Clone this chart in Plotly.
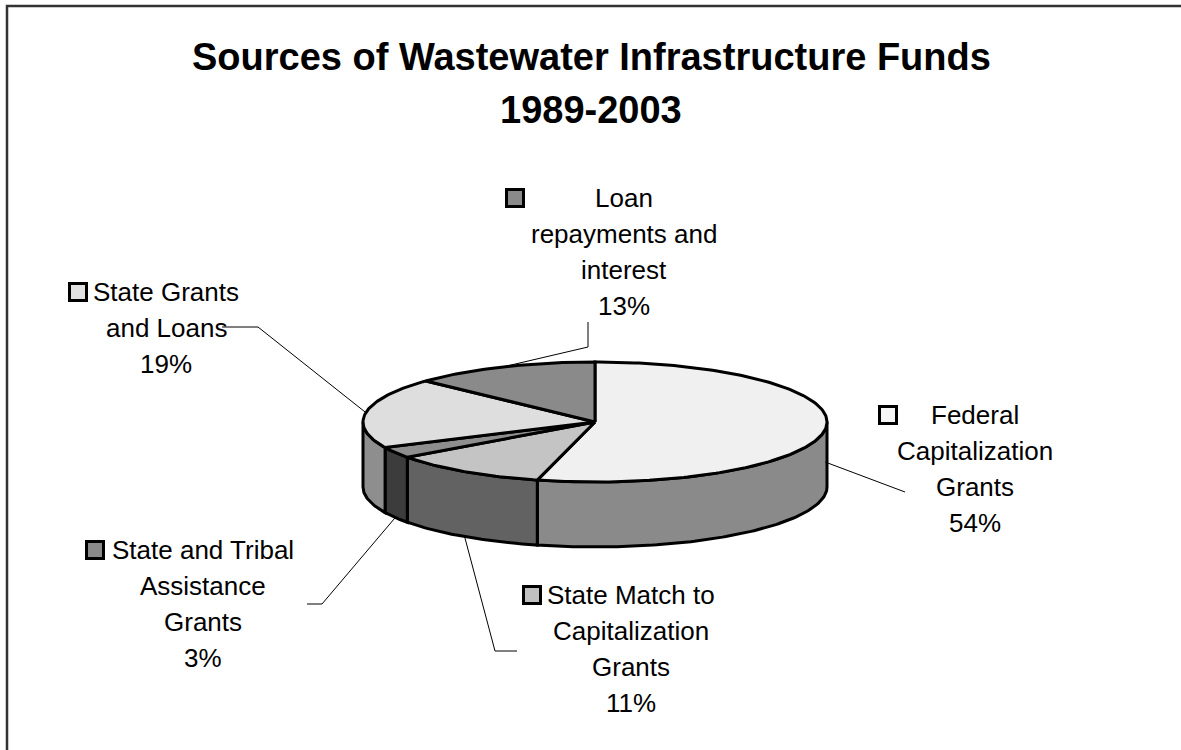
import math
import plotly.graph_objects as go

# ---------------- data ----------------
categories = ["Federal Capitalization Grants", "State Match to Capitalization Grants",
              "State and Tribal Assistance Grants", "State Grants and Loans",
              "Loan repayments and interest"]
values = [54, 11, 3, 19, 13]
label_lines = [["Federal", "Capitalization", "Grants"],
               ["State Match to", "Capitalization", "Grants"],
               ["State and Tribal", "Assistance", "Grants"],
               ["State Grants", "and Loans"],
               ["Loan", "repayments and", "interest"]]
top_colors = ["#f0f0f0", "#c4c4c4", "#8e8e8e", "#dedede", "#8a8a8a"]
side_colors = ["#8a8a8a", "#626262", "#3c3c3c", "#8e8e8e", "#5a5a5a"]
key_colors = ["#f6f6f6", "#c0c0c0", "#8a8a8a", "#e2e2e2", "#8a8a8a"]

# ---------------- layout constants (pixels) ----------------
W, H = 1181, 750
CX, CY, RX, RY, DEPTH = 595, 422, 232, 60, 65
FONT = "Liberation Sans, Arial, sans-serif"
LSIZE = 26
LSTEP = 36
# label block: (center x, first line y, key left x, attach depth fraction, leader bend/end points)
label_pos = [
    (975, 415, 878, 0.5, [(905, 492)]),
    (631, 595, 522, 1.0, [(495, 651), (517, 651)]),
    (203, 550, 85, 1.0, [(322, 604), (307, 604)]),
    (166, 292, 68, 0.0, [(258, 327), (222, 327)]),
    (624, 198, 505, 0.0, [(588, 347), (588, 322)]),
]

fig = go.Figure()

total = sum(values)
angles = []
a = 90.0
for v in values:
    sweep = 360.0 * v / total
    angles.append((a, a - sweep))
    a -= sweep


def pt(theta, dy=0.0):
    t = math.radians(theta)
    return CX + RX * math.cos(t), CY - RY * math.sin(t) + dy


def arc(t0, t1, dy=0.0):
    n = max(2, int(abs(t1 - t0)) + 1)
    xs, ys = [], []
    for i in range(n + 1):
        th = t0 + (t1 - t0) * i / n
        x, y = pt(th, dy)
        xs.append(x)
        ys.append(y)
    return xs, ys

# side faces (front half only: angles between -180 and 0)
for i, (t0, t1) in enumerate(angles):
    hi = min(t0, 0.0)
    lo = max(t1, -180.0)
    if hi <= lo:
        continue
    xt, yt = arc(hi, lo)
    xb, yb = arc(lo, hi, DEPTH)
    fig.add_trace(go.Scatter(x=xt + xb + [xt[0]], y=yt + yb + [yt[0]], mode="lines",
                             fill="toself", fillcolor=side_colors[i],
                             line=dict(color="black", width=3), hoverinfo="skip",
                             showlegend=False))

# top faces
for i, (t0, t1) in enumerate(angles):
    xs, ys = arc(t0, t1)
    fig.add_trace(go.Scatter(x=[CX] + xs + [CX], y=[CY] + ys + [CY], mode="lines",
                             fill="toself", fillcolor=top_colors[i],
                             line=dict(color="black", width=3), hoverinfo="skip",
                             showlegend=False))

# leader lines and labels
for i, (t0, t1) in enumerate(angles):
    mid = (t0 + t1) / 2
    cx, y0, kx, depth_frac, ends = label_pos[i]
    ax, ay = pt(mid, DEPTH * depth_frac)
    lx = [ax] + [e[0] for e in ends]
    ly = [ay] + [e[1] for e in ends]
    fig.add_trace(go.Scatter(x=lx, y=ly, mode="lines", line=dict(color="black", width=1),
                             hoverinfo="skip", showlegend=False))
    lines = label_lines[i] + ["%d%%" % round(100 * values[i] / total)]
    for j, t in enumerate(lines):
        fig.add_annotation(x=cx, y=y0 + j * LSTEP, text=t, showarrow=False,
                           xanchor="center", yanchor="middle",
                           font=dict(family=FONT, size=LSIZE, color="black"))
    fig.add_shape(type="rect", x0=kx + 1.5, x1=kx + 18.5, y0=y0 - 8.5, y1=y0 + 8.5,
                  line=dict(color="black", width=3), fillcolor=key_colors[i])

# title
fig.add_annotation(x=591, y=57, text="<b>Sources of Wastewater Infrastructure Funds</b>",
                   showarrow=False, xanchor="center", yanchor="middle",
                   font=dict(family=FONT, size=38, color="black"))
fig.add_annotation(x=591, y=110, text="<b>1989-2003</b>",
                   showarrow=False, xanchor="center", yanchor="middle",
                   font=dict(family=FONT, size=38, color="black"))

# frame
fig.add_shape(type="rect", xref="paper", yref="paper", x0=7 / W, x1=1.05, y0=1 - 6 / H, y1=-0.05,
              line=dict(color="#333333", width=2.5))

fig.update_layout(width=W, height=H, margin=dict(l=0, r=0, t=0, b=0),
                  paper_bgcolor="white", plot_bgcolor="white",
                  xaxis=dict(range=[0, W], visible=False, fixedrange=True),
                  yaxis=dict(range=[H, 0], visible=False, fixedrange=True),
                  showlegend=False)

fig.write_html("out.html", config={"displayModeBar": False, "staticPlot": True},
               post_script="document.body.style.margin='0px';")
